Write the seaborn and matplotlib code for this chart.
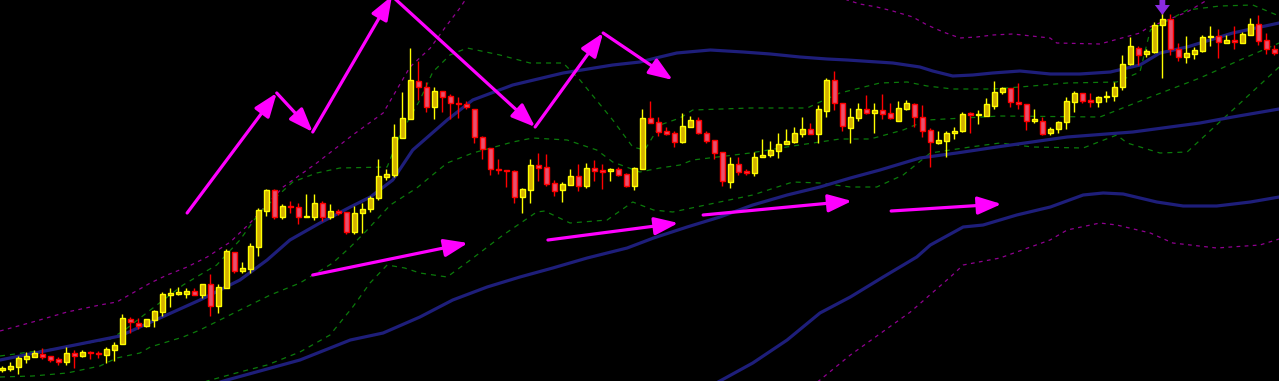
import numpy as np
import pandas as pd
import matplotlib
matplotlib.use("Agg")
import matplotlib.pyplot as plt
import seaborn as sns

# ---------------- candle data (price units) ----------------
opens = [11, 12, 14, 22, 24, 27, 25, 22, 19, 28,
         25, 29, 28, 26, 31, 37, 62, 58, 55, 61,
         69, 86, 87, 87, 90, 86, 97, 75, 93, 129,
         110, 112, 134, 170, 191, 164, 175, 174, 164, 164,
         178, 164, 170, 169, 149, 168, 172, 183, 204, 206,
         243, 262, 300, 294, 274, 290, 285, 278, 277, 272,
         244, 233, 212, 211, 210, 184, 191, 216, 214, 198,
         191, 196, 205, 195, 213, 211, 210, 212, 207, 195,
         212, 263, 259, 250, 248, 239, 254, 261, 248, 241,
         229, 199, 217, 210, 208, 224, 226, 230, 237, 239,
         247, 252, 247, 270, 301, 278, 253, 263, 272, 268,
         271, 268, 260, 272, 277, 264, 251, 238, 240, 248,
         250, 268, 266, 265, 275, 289, 293, 279, 277, 260,
         260, 248, 252, 259, 279, 288, 281, 279, 284, 285,
         294, 317, 333, 327, 329, 356, 362, 332, 324, 327,
         330, 344, 345, 338, 341, 338, 346, 357, 341, 332]
closes = [13, 15, 23, 25, 28, 24, 21, 19, 28, 25,
          29, 28, 27, 32, 36, 63, 59, 55, 62, 70,
          87, 88, 89, 90, 86, 97, 75, 94, 130, 110,
          113, 135, 171, 191, 164, 175, 174, 164, 165, 178,
          164, 170, 168, 149, 168, 172, 183, 205, 207, 244,
          263, 301, 294, 274, 290, 284, 278, 277, 274, 244,
          232, 212, 211, 210, 184, 192, 216, 213, 197, 190,
          197, 205, 195, 213, 210, 209, 212, 206, 195, 213,
          263, 258, 249, 247, 239, 255, 261, 248, 240, 228,
          200, 217, 209, 208, 224, 226, 231, 237, 240, 248,
          252, 247, 272, 301, 278, 255, 264, 272, 268, 271,
          267, 263, 273, 278, 264, 250, 239, 241, 248, 250,
          267, 266, 267, 277, 289, 293, 279, 277, 260, 262,
          247, 252, 259, 280, 288, 280, 279, 284, 285, 294,
          317, 335, 326, 330, 356, 362, 332, 324, 328, 331,
          344, 345, 339, 341, 339, 347, 357, 340, 332, 328]
highs = [15, 19, 25, 29, 31, 33, 25, 24, 34, 31,
         31, 30, 30, 34, 39, 67, 64, 63, 62, 71,
         89, 93, 94, 93, 93, 97, 107, 97, 132, 129,
         119, 138, 173, 192, 192, 177, 180, 178, 187, 187,
         180, 177, 172, 169, 175, 178, 185, 222, 212, 257,
         289, 333, 320, 299, 294, 290, 287, 284, 280, 272,
         245, 233, 222, 211, 211, 193, 222, 228, 227, 201,
         199, 212, 217, 218, 221, 217, 213, 214, 208, 214,
         272, 280, 264, 254, 250, 268, 265, 264, 250, 241,
         229, 224, 224, 212, 229, 242, 240, 248, 252, 254,
         264, 258, 276, 303, 310, 278, 273, 278, 286, 278,
         287, 278, 280, 281, 278, 276, 253, 250, 250, 254,
         269, 269, 271, 283, 300, 294, 293, 298, 277, 272,
         264, 254, 260, 284, 290, 288, 288, 285, 290, 299,
         326, 344, 335, 332, 359, 370, 367, 338, 345, 334,
         346, 355, 352, 346, 355, 349, 363, 366, 348, 336]
lows = [9, 10, 7, 18, 24, 22, 19, 16, 16, 13,
        24, 22, 23, 18, 20, 37, 48, 52, 54, 54,
        65, 74, 86, 83, 86, 83, 65, 68, 93, 108,
        108, 108, 125, 165, 162, 162, 168, 157, 164, 161,
        160, 162, 166, 147, 147, 148, 169, 181, 201, 204,
        243, 262, 281, 269, 262, 269, 262, 263, 272, 238,
        222, 206, 207, 194, 178, 168, 178, 200, 195, 185,
        179, 196, 190, 193, 200, 192, 200, 205, 194, 191,
        212, 258, 245, 246, 234, 238, 254, 247, 238, 222,
        195, 193, 206, 206, 205, 224, 224, 223, 237, 238,
        244, 247, 238, 264, 271, 250, 238, 260, 267, 248,
        262, 262, 260, 271, 254, 244, 214, 237, 224, 242,
        249, 248, 257, 265, 272, 287, 274, 272, 251, 258,
        246, 246, 248, 252, 269, 278, 274, 274, 279, 280,
        291, 316, 316, 324, 328, 303, 326, 320, 318, 322,
        329, 335, 323, 338, 332, 338, 346, 336, 327, 326]

# ---------------- indicator lines (bar index, price) ----------------
ma_fast_x = [-0.29, 14.7, 24.7, 29.7, 33.1, 35.95, 39.7, 43.5, 46.0, 48.8, 51.3, 55.6, 58.8, 63.8,
             70.1, 76.3, 79.7, 82.2, 84.3, 88.5, 92.6, 96.0, 99.7, 103.1, 105.6, 111.3, 114.7,
             116.3, 118.8, 121.3, 123.8, 127.2, 131.0, 134.7, 138.5, 142.2, 144.7, 148.1, 153.8, 159.6]
ma_fast_y = [21, 45, 81, 101, 121, 141, 158, 174, 184, 201, 231, 261, 281, 296,
             308, 316, 319, 324, 328, 331, 329, 327, 324, 322, 321, 318, 314,
             310, 305, 306, 308, 310, 307, 307, 309, 316, 328, 334, 348, 358]

ma_mid_x = [24.7, 28.1, 37.2, 43.5, 47.6, 52.2, 56.3, 60.6, 64.7, 68.8, 73.1, 78.1, 81.4, 85.6,
            89.7, 93.8, 98.1, 102.2, 106.0, 109.7, 114.7, 119.3, 124.3, 133.1, 141.3, 149.7,
            153.8, 159.6]
ma_mid_y = [-7, 1, 21, 41, 48, 64, 81, 94, 104, 113, 123, 133, 143, 154,
            164, 176, 186, 194, 203, 211, 223, 228, 234, 244, 249, 258, 264, 272]

ma_slow_x = [87.2, 89.7, 93.8, 98.1, 102.2, 106.0, 110.1, 114.3, 116.0, 120.1, 122.6, 126.8,
             131.0, 135.1, 137.6, 140.1, 144.3, 147.6, 151.8, 156.0, 159.6]
ma_slow_y = [-11, 0, 18, 41, 68, 84, 104, 124, 136, 154, 156, 166,
             174, 186, 188, 187, 179, 175, 175, 179, 184]

band_up_x = [-0.29, 7.2, 13.5, 15.3, 18.5, 22.6, 25.1, 26.8, 29.7, 32.2, 36.3, 39.3, 42.2, 48.1,
             49.7, 52.2, 53.8, 55.96, 58.1, 62.2, 65.96, 70.1, 72.2, 76.3, 78.8, 80.3, 82.2,
             84.7, 86.3, 93.5, 100.6, 102.2, 104.7, 107.2, 109.7, 113.1, 115.6, 118.8, 123.8,
             127.2, 133.1, 139.3, 142.2, 143.5, 144.7, 148.1, 152.2, 156.3, 159.6]
band_up_y = [25, 33, 42, 51, 71, 96, 108, 116, 141, 169, 199, 208, 213, 214,
             246, 281, 309, 326, 333, 326, 318, 318, 301, 261, 234, 231, 256,
             263, 271, 273, 273, 279, 288, 293, 298, 299, 295, 292, 292,
             294, 298, 299, 309, 351, 356, 371, 375, 376, 365]

band_lo_x = [-0.29, 3.8, 8.1, 12.2, 14.3, 17.2, 18.5, 22.6, 24.7, 29.7, 33.5, 37.2, 41.3, 43.5,
             45.6, 48.5, 51.8, 55.6, 58.8, 63.8, 66.3, 70.6, 74.3, 76.3, 79.7, 82.2, 84.7,
             86.3, 93.5, 98.8, 104.7, 108.5, 112.6, 115.6, 124.7, 137.2, 143.5, 149.7, 154.7, 159.6]
band_lo_y = [4, 5, 8, 15, 23, 28, 34, 44, 51, 71, 86, 98, 118, 134,
             151, 176, 193, 218, 228, 239, 243, 241, 231, 219, 209, 213, 216,
             221, 228, 235, 242, 242, 251, 261, 265, 264, 284, 303, 321, 338]

slow_band_x = [24.7, 25.6, 29.7, 33.1, 37.2, 40.96, 43.8, 45.96, 48.1, 50.3, 52.2, 55.6, 58.5,
               62.6, 66.8, 67.8, 70.96, 75.6, 78.8, 81.4, 83.8, 88.5, 93.8, 98.8, 102.2, 106.0,
               109.3, 112.6, 116.0, 121.0, 124.7, 128.8, 135.1, 139.3, 140.6, 144.7, 148.1,
               153.8, 159.6]
slow_band_y = [-3, 0, 9, 16, 29, 46, 74, 98, 116, 113, 108, 104, 121,
               146, 169, 170, 158, 161, 179, 171, 169, 177, 186, 199, 198, 194,
               194, 206, 228, 234, 238, 234, 233, 246, 238, 228, 229, 271, 314]

outer_up_x = [-0.29, 3.8, 8.1, 12.2, 14.3, 16.3, 18.5, 20.6, 23.1, 25.6, 28.5, 30.96, 35.1, 39.3,
              43.8, 47.6, 50.96, 53.5, 55.3, 57.2, 59.1, np.nan, 102.2, 105.6, 107.2, 109.3,
              111.3, 113.8, 115.6, 117.6, 119.7, 121.8, 123.8, 126.3, 130.96, 131.8, 137.2,
              142.2, 143.1, 148.1, 150.6, 153.5]
outer_up_y = [50, 59, 69, 76, 79, 88, 98, 106, 114, 124, 139, 158, 194, 218,
              246, 268, 314, 333, 353, 373, 396, np.nan, 396, 381, 377, 374,
              370, 364, 356, 349, 343, 344, 346, 347, 343, 338, 337,
              348, 353, 369, 381, 391]

outer_lo_x = [100.3, 102.2, 106.0, 113.5, 118.5, 120.1, 124.7, 130.96, 133.1, 137.2, 139.3,
              143.5, 146.3, 151.8, 157.2, 159.6]
outer_lo_y = [-11, 1, 26, 69, 104, 116, 123, 141, 151, 158, 156, 148, 138, 133, 136, 142]

# ---------------- hand-drawn magenta arrows (start -> end) ----------------
arrow_x0 = [23.1, 34.3, 38.8, 48.7, 66.6, 75.1, 38.8, 68.2, 87.6, 111.1]
arrow_y0 = [168, 288, 249, 385, 254, 348, 106, 141, 166, 170]
arrow_x1 = [34.3, 38.8, 48.7, 66.6, 75.1, 83.8, 58.2, 84.5, 106.2, 124.9]
arrow_y1 = [288, 249, 385, 254, 348, 301, 138, 158, 180, 177]

signal_x = [145]
signal_y = [366]

# ---------------- drawing ----------------
sns.set_theme(style="dark")
plt.rcParams["font.family"] = ["DejaVu Sans"]

W, H, DPI = 1279, 381, 100
fig = plt.figure(figsize=(W / DPI, H / DPI), dpi=DPI, facecolor="black")
ax = fig.add_axes([0, 0, 1, 1])
ax.set_facecolor("black")

BLUE = "#1e1e7a"
GREEN = "#0b7a0b"
PURPLE = "#900090"

def line(xs, ys, color, lw, dashes=None, z=2):
    df = pd.DataFrame({"x": xs, "y": ys})
    if df["x"].isna().any():
        grp = df["x"].isna().cumsum()
        parts = [g.dropna() for _, g in df.groupby(grp)]
    else:
        parts = [df]
    for p in parts:
        kw = dict(data=p, x="x", y="y", color=color, linewidth=lw, ax=ax,
                  estimator=None, sort=False, legend=False, zorder=z)
        l = sns.lineplot(**kw)
        if dashes is not None:
            l.lines[-1].set_dashes(dashes)

line(outer_up_x, outer_up_y, PURPLE, 0.9, dashes=(3, 3.5))
line(outer_lo_x, outer_lo_y, PURPLE, 0.9, dashes=(3, 3.5))
line(band_up_x, band_up_y, GREEN, 0.9, dashes=(4, 4))
line(band_lo_x, band_lo_y, GREEN, 0.9, dashes=(4, 4))
line(slow_band_x, slow_band_y, GREEN, 0.9, dashes=(4, 4))
line(ma_fast_x, ma_fast_y, BLUE, 2.3)
line(ma_mid_x, ma_mid_y, BLUE, 2.3)
line(ma_slow_x, ma_slow_y, BLUE, 2.3)

# candles
o = np.array(opens, float); c = np.array(closes, float)
h = np.array(highs, float); lo = np.array(lows, float)
idx = np.arange(len(o))
up = c >= o
edge = np.where(up, "#ffff00", "#ff0000")
fill = np.where(up, "#d2b000", "#e8506e")
ax.vlines(idx, lo, h, colors=edge, linewidth=1.0, zorder=4)
bottom = np.minimum(o, c)
height = np.maximum(np.abs(c - o), 1.2)
ax.bar(idx, height, bottom=bottom, width=0.62, color=fill, edgecolor=edge,
       linewidth=1.0, zorder=5)

# arrows
for x0, y0, x1, y1 in zip(arrow_x0, arrow_y0, arrow_x1, arrow_y1):
    ax.annotate("", xy=(x1, y1), xytext=(x0, y0),
                arrowprops=dict(arrowstyle="-|>,head_length=1.2,head_width=0.45",
                                mutation_scale=12, lw=2.3, color="#ff00ff",
                                shrinkA=0, shrinkB=0),
                annotation_clip=False, zorder=7)

for sx, sy in zip(signal_x, signal_y):
    ax.annotate("", xy=(sx, sy), xytext=(sx, sy + 15),
                arrowprops=dict(arrowstyle="simple,head_length=0.6,head_width=0.9,tail_width=0.35",
                                mutation_scale=12, color="#8a2be2", lw=0,
                                shrinkA=0, shrinkB=0),
                annotation_clip=False, zorder=8)

ax.set_xlim(-0.29, 159.58)
ax.set_ylim(0, 381)
ax.axis("off")

fig.savefig("out.png", dpi=DPI, facecolor="black")
